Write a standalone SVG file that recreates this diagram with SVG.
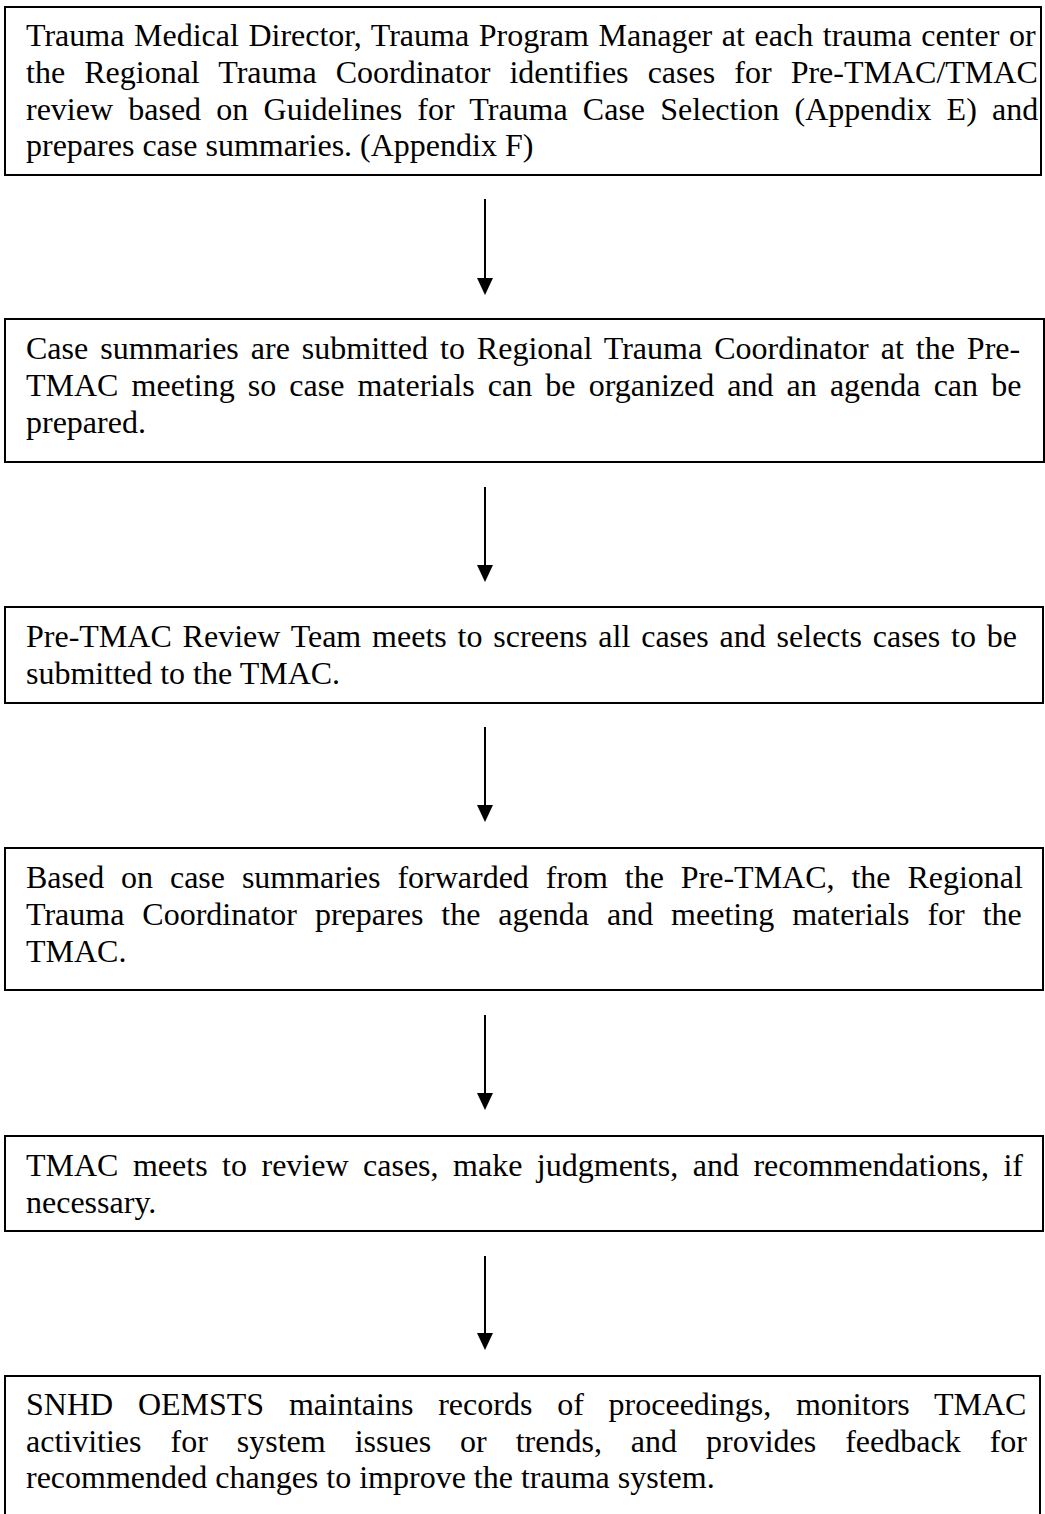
<svg xmlns="http://www.w3.org/2000/svg" width="1045" height="1514" viewBox="0 0 1045 1514">
<style>
.box{fill:#fff;stroke:#000;stroke-width:2}
.t{font-family:"Liberation Serif","Times New Roman",serif;font-size:32px;fill:#000}
.conn line{stroke:#000;stroke-width:2}
.conn polygon{fill:#000}
</style>
<rect width="1045" height="1514" fill="#fff"/>
<g id="n1">
<rect class="box" x="5" y="7" width="1036" height="168"/>
<text class="t" x="26" y="46" style="word-spacing:1.6px">Trauma Medical Director, Trauma Program Manager at each trauma center or</text>
<text class="t" x="26" y="83" style="word-spacing:11.1px">the Regional Trauma Coordinator identifies cases for Pre-TMAC/TMAC</text>
<text class="t" x="26" y="119.5" style="word-spacing:7.2px">review based on Guidelines for Trauma Case Selection (Appendix E) and</text>
<text class="t" x="26" y="156">prepares case summaries. (Appendix F)</text>
</g>
<g id="n2">
<rect class="box" x="5" y="319" width="1039" height="143"/>
<text class="t" x="26" y="359" style="word-spacing:3.97px">Case summaries are submitted to Regional Trauma Coordinator at the Pre-</text>
<text class="t" x="26" y="396" style="word-spacing:5.1px">TMAC meeting so case materials can be organized and an agenda can be</text>
<text class="t" x="26" y="433">prepared.</text>
</g>
<g id="n3">
<rect class="box" x="5" y="607" width="1038" height="96"/>
<text class="t" x="26" y="647" style="word-spacing:2.85px">Pre-TMAC Review Team meets to screens all cases and selects cases to be</text>
<text class="t" x="26" y="684">submitted to the TMAC.</text>
</g>
<g id="n4">
<rect class="box" x="5" y="848" width="1038" height="142"/>
<text class="t" x="26" y="888" style="word-spacing:8.87px">Based on case summaries forwarded from the Pre-TMAC, the Regional</text>
<text class="t" x="26" y="925" style="word-spacing:9.97px">Trauma Coordinator prepares the agenda and meeting materials for the</text>
<text class="t" x="26" y="962">TMAC.</text>
</g>
<g id="n5">
<rect class="box" x="5" y="1136" width="1038" height="95"/>
<text class="t" x="26" y="1176" style="word-spacing:6.5px">TMAC meets to review cases, make judgments, and recommendations, if</text>
<text class="t" x="26" y="1213">necessary.</text>
</g>
<g id="n6">
<rect class="box" x="5" y="1376" width="1035" height="150"/>
<text class="t" x="26" y="1415" style="word-spacing:16.79px">SNHD OEMSTS maintains records of proceedings, monitors TMAC</text>
<text class="t" x="26" y="1452" style="word-spacing:20.97px">activities for system issues or trends, and provides feedback for</text>
<text class="t" x="26" y="1488">recommended changes to improve the trauma system.</text>
</g>
<g id="connectors" class="conn">
<line x1="485" y1="199" x2="485" y2="280"/><polygon points="477,278 493,278 485,295"/>
<line x1="485" y1="487" x2="485" y2="567"/><polygon points="477,565 493,565 485,582"/>
<line x1="485" y1="727" x2="485" y2="807"/><polygon points="477,805 493,805 485,822"/>
<line x1="485" y1="1015" x2="485" y2="1095"/><polygon points="477,1093 493,1093 485,1110"/>
<line x1="485" y1="1256" x2="485" y2="1335"/><polygon points="477,1333 493,1333 485,1350"/>
</g>
</svg>
